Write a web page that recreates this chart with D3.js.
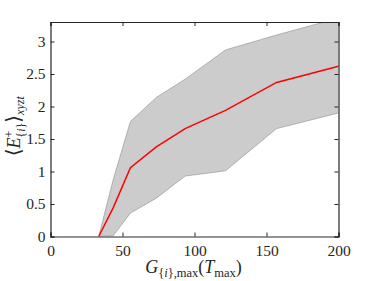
<!DOCTYPE html>
<html>
<head>
    <script src="https://d3js.org/d3.v7.min.js"></script>
    <style>
        body { margin: 0; background: white; }
        svg text { font-family: "Liberation Serif", "DejaVu Serif", serif; fill: #262626; }
    </style>
</head>
<body>
    <div id="chart"></div>
    <script>
        // Data
        const gMax = [33.5, 43.5, 55.5, 73.5, 93.5, 121.5, 157, 200];
        const meanE = [0, 0.44, 1.06, 1.38, 1.66, 1.94, 2.37, 2.62];
        const upperE = [0, 0.87, 1.77, 2.14, 2.42, 2.87, 3.1, 3.36];
        const lowerE = [0, 0.01, 0.36, 0.59, 0.93, 1.01, 1.66, 1.9];
        const xTicks = [0, 50, 100, 150, 200];
        const yTicks = [0, 0.5, 1, 1.5, 2, 2.5, 3];

        const width = 374, height = 281;
        const margin = {top: 22, right: 35.5, bottom: 44.5, left: 50.5};
        const iw = width - margin.left - margin.right;
        const ih = height - margin.top - margin.bottom;

        const svg = d3.select("#chart").append("svg")
            .attr("width", width).attr("height", height);

        const x = d3.scaleLinear().domain([0, 200]).range([0, iw]);
        const y = d3.scaleLinear().domain([0, 3.3]).range([ih, 0]);

        const g = svg.append("g").attr("transform", `translate(${margin.left},${margin.top})`);

        g.append("clipPath").attr("id", "clip")
            .append("rect").attr("width", iw).attr("height", ih);

        const rows = gMax.map((v, i) => ({x: v, m: meanE[i], lo: lowerE[i], hi: upperE[i]}));

        const plot = g.append("g").attr("clip-path", "url(#clip)");

        plot.append("path").datum(rows)
            .attr("fill", "#cccccc")
            .attr("d", d3.area().x(d => x(d.x)).y0(d => y(d.lo)).y1(d => y(d.hi)));

        ["hi", "lo"].forEach(k => {
            plot.append("path").datum(rows)
                .attr("fill", "none")
                .attr("stroke", "#8c8c8c")
                .attr("stroke-width", 0.6)
                .attr("d", d3.line().x(d => x(d.x)).y(d => y(d[k])));
        });

        plot.append("path").datum(rows)
            .attr("fill", "none")
            .attr("stroke", "#ff0000")
            .attr("stroke-width", 1.5)
            .attr("d", d3.line().x(d => x(d.x)).y(d => y(d.m)));

        // axes
        const xAxis = g.append("g").attr("transform", `translate(0,${ih})`)
            .call(d3.axisBottom(x).tickValues(xTicks).tickSize(-4).tickPadding(8));
        const xTop = g.append("g")
            .call(d3.axisTop(x).tickValues(xTicks).tickSize(-4).tickFormat(""));
        const yAxis = g.append("g")
            .call(d3.axisLeft(y).tickValues(yTicks).tickSize(-4).tickPadding(5).tickFormat(d3.format("")));
        const yRight = g.append("g").attr("transform", `translate(${iw},0)`)
            .call(d3.axisRight(y).tickValues(yTicks).tickSize(-4).tickFormat(""));

        [xAxis, xTop, yAxis, yRight].forEach(a => {
            a.select(".domain").attr("stroke", "#262626").attr("stroke-width", 1.2);
            a.selectAll(".tick line").attr("stroke", "#262626");
            a.selectAll("text").attr("font-size", 15.5).attr("fill", "#262626")
                .style("font-family", "Liberation Serif");
        });

        // x label: G_{{i},max}(T_max)
        const xl = svg.append("text")
            .attr("x", margin.left + iw / 2 - 1).attr("y", 273)
            .attr("text-anchor", "middle").attr("font-size", 18);
        xl.append("tspan").attr("font-style", "italic").text("G");
        xl.append("tspan").attr("font-size", 12.5).attr("dy", 3.5).text("{");
        xl.append("tspan").attr("font-size", 12.5).attr("font-style", "italic").text("i");
        xl.append("tspan").attr("font-size", 12.5).text("},max");
        xl.append("tspan").attr("dy", -3.5).text("(");
        xl.append("tspan").attr("font-style", "italic").text("T");
        xl.append("tspan").attr("font-size", 12.5).attr("dy", 3.5).text("max");
        xl.append("tspan").attr("dy", -3.5).text(")");

        // y label: <E^+_{i}>_{xyzt}
        const yl = svg.append("text")
            .attr("transform", `translate(20,${margin.top + ih / 2 - 3}) rotate(-90)`)
            .attr("text-anchor", "middle").attr("font-size", 18);
        yl.append("tspan").attr("font-size", 20).text("\u27E8");
        yl.append("tspan").attr("font-style", "italic").text("E");
        yl.append("tspan").attr("font-size", 12).attr("dy", -7).text("+");
        yl.append("tspan").attr("font-size", 12).attr("dx", -7).attr("dy", 12).text("{");
        yl.append("tspan").attr("font-size", 12).attr("font-style", "italic").text("i");
        yl.append("tspan").attr("font-size", 12).text("}");
        yl.append("tspan").attr("font-size", 20).attr("dy", -5).text("\u27E9");
        yl.append("tspan").attr("font-size", 12).attr("font-style", "italic").attr("dy", 4).text("xyzt");
    </script>
</body>
</html>
